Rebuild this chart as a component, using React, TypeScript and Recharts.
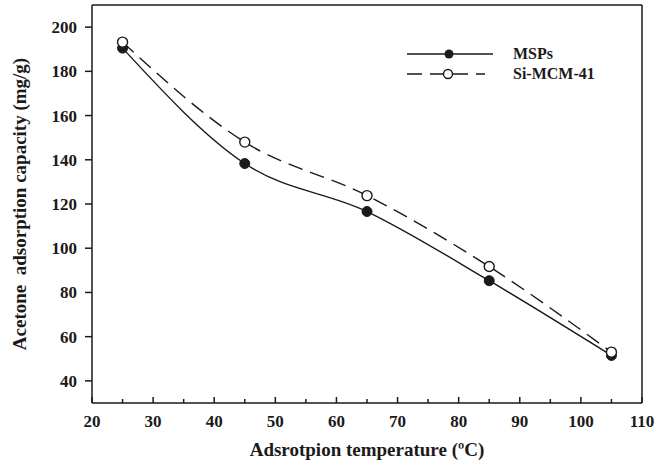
import { Line, LineChart, ReferenceLine, XAxis, YAxis } from 'recharts';

const temps = [25, 45, 65, 85, 105];
const msps = [190.5, 138.3, 116.6, 85.3, 51.5];
const siMcm = [193.2, 148.0, 123.8, 91.7, 53.0];
const xTicks = [20, 25, 30, 35, 40, 45, 50, 55, 60, 65, 70, 75, 80, 85, 90, 95, 100, 105, 110];
const yTicks = [40, 60, 80, 100, 120, 140, 160, 180, 200];

const data = temps.map((t, i) => ({ t, msps: msps[i], si: siMcm[i] }));

const font = '"Liberation Serif", "Times New Roman", serif';
const ink = '#1a1a1a';

function XTick({ x, y, payload }: any) {
  const major = payload.value % 10 === 0;
  return (
    <g>
      <line x1={x} x2={x} y1={y} y2={y - (major ? 6 : 4)} stroke={ink} strokeWidth={1.5} />
      {major && (
        <text x={x} y={y + 24} textAnchor="middle" fontFamily={font} fontWeight="bold" fontSize={17} fill={ink}>
          {payload.value}
        </text>
      )}
    </g>
  );
}

function YTick({ x, y, payload }: any) {
  return (
    <g>
      <line x1={x - 7} x2={x} y1={y} y2={y} stroke={ink} strokeWidth={1.5} />
      <text x={x - 15} y={y + 6} textAnchor="end" fontFamily={font} fontWeight="bold" fontSize={17} fill={ink}>
        {payload.value}
      </text>
    </g>
  );
}

function LegendBox() {
  return (
    <svg width={220} height={50} style={{ position: 'absolute', left: 400, top: 40, overflow: 'visible' }}>
      <line x1={7} x2={93} y1={14} y2={14} stroke={ink} strokeWidth={1.4} />
      <circle cx={49} cy={14} r={4.5} fill={ink} />
      <text x={113} y={19} fontFamily={font} fontWeight="bold" fontSize={16} fill={ink}>MSPs</text>
      <line x1={7} x2={85} y1={34} y2={34} stroke={ink} strokeWidth={1.4} strokeDasharray="15 8" />
      <circle cx={48} cy={34} r={4.5} fill="#fff" stroke={ink} strokeWidth={1.4} />
      <text x={113} y={39} fontFamily={font} fontWeight="bold" fontSize={16} fill={ink}>Si-MCM-41</text>
    </svg>
  );
}

export default function App() {
  return (
    <div style={{ position: 'absolute', left: 0, top: 0, width: 668, height: 466, background: '#fff' }}>
      <LineChart width={668} height={466} data={data} margin={{ top: 5, right: 26, left: 0, bottom: 0 }}>
        <XAxis
          dataKey="t"
          type="number"
          domain={[20, 110]}
          ticks={xTicks}
          interval={0}
          tickSize={0}
          tickMargin={0}
          tick={<XTick />}
          height={63}
          axisLine={{ stroke: ink, strokeWidth: 1.5 }}
          label={{ value: 'Adsrotpion temperature (ºC)', position: 'insideBottom', offset: 10, fontFamily: font, fontWeight: 'bold', fontSize: 19, fill: ink }}
        />
        <YAxis
          type="number"
          domain={[30, 210]}
          ticks={yTicks}
          interval={0}
          tickSize={0}
          tickMargin={0}
          tick={<YTick />}
          width={92}
          axisLine={{ stroke: ink, strokeWidth: 1.5 }}
          label={{ value: 'Acetone\u00A0 adsorption capacity (mg/g)', angle: -90, position: 'insideLeft', offset: 19, style: { textAnchor: 'middle' }, fontFamily: font, fontWeight: 'bold', fontSize: 19, fill: ink }}
        />
        <ReferenceLine y={210} stroke={ink} strokeWidth={1.5} />
        <ReferenceLine x={110} stroke={ink} strokeWidth={1.5} />
        <Line
          type="monotone"
          dataKey="msps"
          stroke={ink}
          strokeWidth={1.4}
          dot={{ r: 5, fill: ink, stroke: ink, strokeWidth: 1 }}
          isAnimationActive={false}
          name="MSPs"
        />
        <Line
          type="monotone"
          dataKey="si"
          stroke={ink}
          strokeWidth={1.4}
          strokeDasharray="15 8"
          dot={{ r: 5, fill: '#fff', stroke: ink, strokeWidth: 1.4, strokeDasharray: '' }}
          isAnimationActive={false}
          name="Si-MCM-41"
        />
      </LineChart>
      <LegendBox />
    </div>
  );
}
